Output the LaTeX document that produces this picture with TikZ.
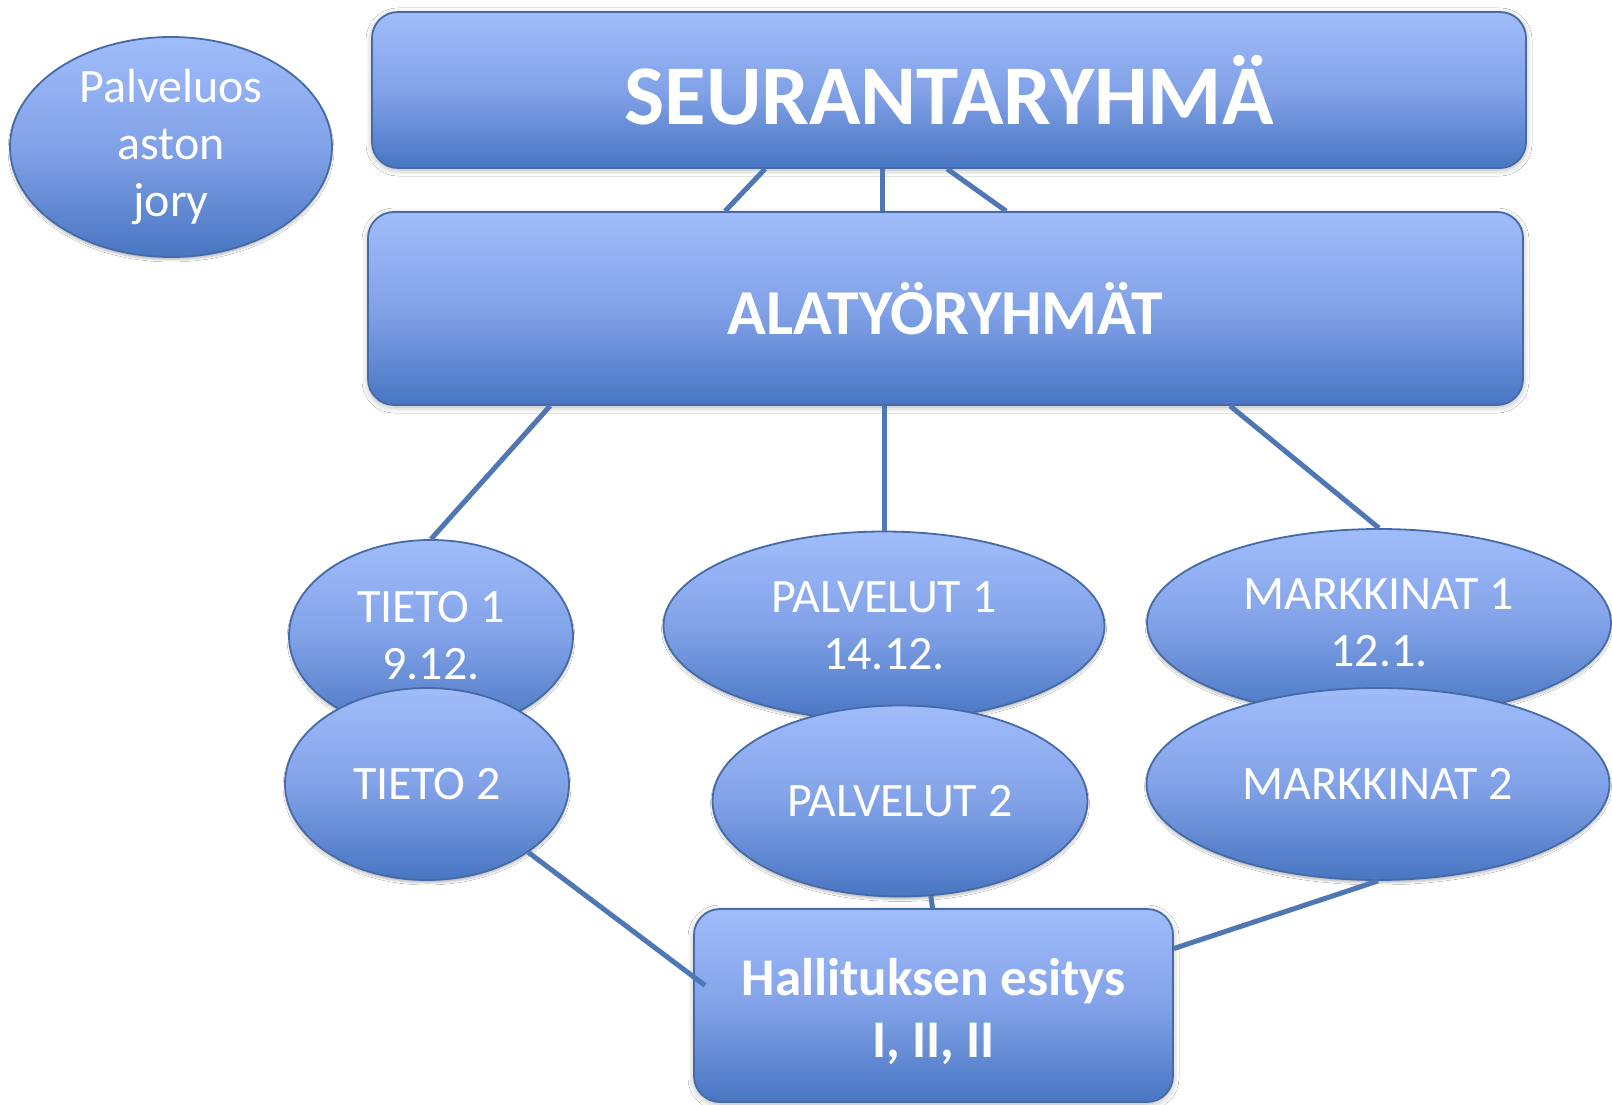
\documentclass[tikz,border=0pt]{standalone}
\usepackage{fontspec}
\setmainfont{Carlito}
\usetikzlibrary{shapes.geometric,shadows.blur}
\definecolor{topblue}{RGB}{160,188,250}
\definecolor{midblue}{RGB}{130,162,232}
\definecolor{botblue}{RGB}{72,118,194}
\definecolor{edgeblue}{RGB}{70,106,166}
\definecolor{lineblue}{RGB}{79,119,181}
\tikzset{
  shaded/.style={top color=topblue, bottom color=botblue, middle color=midblue,
    draw=edgeblue, line width=1.8pt, text=white, inner sep=0pt, align=center},
  bigbox/.style={shaded, rectangle, rounded corners=26pt,
    blur shadow={shadow xshift=0pt, shadow yshift=-2pt, shadow blur steps=8, shadow blur radius=6pt, shadow opacity=30}},
  oval/.style={shaded, ellipse, font=\fontsize{48}{57}\selectfont,
    blur shadow={shadow xshift=0pt, shadow yshift=-3pt, shadow blur steps=5, shadow opacity=25}},
  conn/.style={draw=lineblue, line width=5pt}
}
\begin{document}
\begin{tikzpicture}[x=1pt,y=-1pt]
\useasboundingbox[fill=white] (0,0) rectangle (1612,1105);
% nodes
\node[oval, minimum width=322pt, minimum height=214pt] (jory) at (171,147) {Palveluos\\aston\\jory};
\node[bigbox, minimum width=1154pt, minimum height=156pt, font=\bfseries\fontsize{85}{90}\selectfont] (seur) at (949,90) {SEURANTARYHMÄ};
\node[bigbox, minimum width=1155pt, minimum height=193pt, font=\bfseries\fontsize{64}{70}\selectfont] (ala) at (945.5,308.5) {ALATYÖRYHMÄT};
\node[oval, minimum width=284pt, minimum height=192pt] (t1) at (431,636) {TIETO 1\\9.12.};
\node[oval, minimum width=284pt, minimum height=192pt] (t2) at (427,784) {TIETO 2};
\node[oval, minimum width=441pt, minimum height=189pt] (p1) at (884,626) {PALVELUT 1\\14.12.};
\node[oval, minimum width=375pt, minimum height=191pt] (p2) at (900,801) {PALVELUT 2};
\node[oval, minimum width=464pt, minimum height=188pt] (m1) at (1379,623) {MARKKINAT 1\\12.1.};
\node[oval, minimum width=463pt, minimum height=192pt] (m2) at (1378,784) {MARKKINAT 2};
\node[bigbox, minimum width=479pt, minimum height=193pt, font=\bfseries\fontsize{53}{62}\selectfont] (hal) at (933.5,1005.5) {\rule{0pt}{50pt}Hallituksen esitys\\I, II, II};
% connectors
\draw[conn] ([xshift=394pt]seur.south west) -- ([xshift=358pt]ala.north west);
\draw[conn] ([xshift=511pt]seur.south west) -- ([xshift=515pt]ala.north west);
\draw[conn] ([xshift=576pt]seur.south west) -- ([xshift=639pt]ala.north west);
\draw[conn] ([xshift=183pt]ala.south west) -- (t1.north);
\draw[conn] (p1.north |- ala.south) -- (p1.north);
\draw[conn] ([xshift=863pt]ala.south west) -- (m1.north);
\draw[conn] (t2.-34) -- ([xshift=12pt,yshift=20pt]hal.west);
\draw[conn] (p2.-72) -- ([xshift=-1pt]hal.north);
\draw[conn] (m2.south) -- ([yshift=57pt]hal.east);
\end{tikzpicture}
\end{document}
